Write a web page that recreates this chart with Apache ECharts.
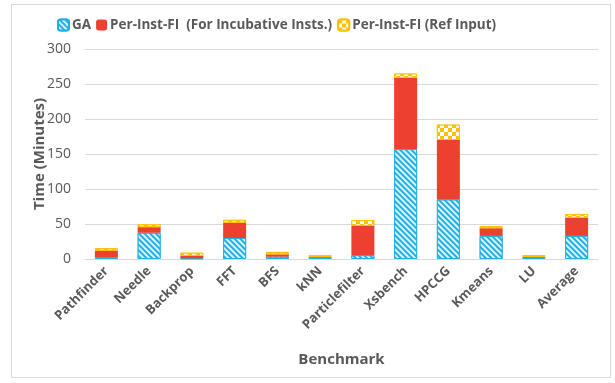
<!DOCTYPE html>
<html><head><meta charset="utf-8">
<script src="https://cdn.jsdelivr.net/npm/echarts@6/dist/echarts.min.js"></script>
<style>
html,body{margin:0;padding:0;background:#fff;}
#frame{position:absolute;left:11px;top:4px;width:600px;height:374px;border:1px solid #d9d9d9;box-sizing:border-box;}
#c{position:absolute;left:0;top:0;width:615px;height:383px;}
</style></head>
<body><div id="frame"></div><div id="c"></div>
<script>
const categories = ['Pathfinder','Needle','Backprop','FFT','BFS','kNN','Particlefilter','Xsbench','HPCCG','Kmeans','LU','Average'];
const gaValues = [2, 37.5, 1, 30, 3.3, 2, 5.5, 157, 85, 33, 2, 33];
const incubValues = [10, 8, 3.5, 22, 3.4, 1, 42, 102, 85, 11, 1, 26];
const refValues = [3.5, 4, 4.5, 4, 3.4, 2.3, 8, 6, 22, 3, 2.5, 5];
const yTicks = {min: 0, max: 300, interval: 50};

const chart = echarts.init(document.getElementById('c'), null, {renderer: 'canvas'});
const font = '"Open Sans", "Liberation Sans", sans-serif';
chart.setOption({
  animation: false,
  legend: {
    top: 13, left: 52,
    itemWidth: 11, itemHeight: 11, itemGap: 5,
    textStyle: {fontFamily: font, fontSize: 13.5, fontWeight: 'bold', color: '#595959', padding: [0, 0, 0, -2]},
    data: ['GA', 'Per-Inst-FI  (For Incubative Insts.)', 'Per-Inst-FI (Ref Input)']
  },
  grid: {left: 85, right: 17, top: 49, bottom: 124},
  xAxis: {
    type: 'category', data: categories,
    name: 'Benchmark', nameLocation: 'middle', nameGap: 93,
    nameTextStyle: {fontFamily: font, fontSize: 15, fontWeight: 'bold', color: '#595959'},
    axisLine: {lineStyle: {color: '#d9d9d9'}},
    axisTick: {show: false},
    axisLabel: {rotate: 45, interval: 0, fontFamily: font, fontSize: 13, fontWeight: 'bold', color: '#595959', margin: 10}
  },
  yAxis: {
    type: 'value', min: yTicks.min, max: yTicks.max, interval: yTicks.interval,
    name: 'Time (Minutes)', nameLocation: 'middle', nameGap: 38, nameMoveOverlap: false,
    nameTextStyle: {fontFamily: font, fontSize: 15, fontWeight: 'bold', color: '#595959'},
    axisLine: {show: false}, axisTick: {show: false},
    axisLabel: {fontFamily: font, fontSize: 14, color: '#595959', margin: 14},
    splitLine: {lineStyle: {color: '#d9d9d9'}}
  },
  series: [
    {
      name: 'GA', type: 'bar', stack: 's', barWidth: 23, data: gaValues,
      itemStyle: {
        color: '#1FB1E6', borderColor: '#1FB1E6', borderWidth: 1,
        decal: {symbol: 'rect', symbolSize: 1, color: 'rgba(255,255,255,0.85)', dashArrayX: [1, 0], dashArrayY: [2, 2], rotation: Math.PI / 4}
      }
    },
    {
      name: 'Per-Inst-FI  (For Incubative Insts.)', type: 'bar', stack: 's', barWidth: 23, data: incubValues,
      itemStyle: {color: '#EE4030'}
    },
    {
      name: 'Per-Inst-FI (Ref Input)', type: 'bar', stack: 's', barWidth: 23, data: refValues,
      itemStyle: {
        color: '#FFC000', borderColor: '#FFC000', borderWidth: 1,
        decal: {symbol: 'rect', symbolSize: 1, color: '#ffffff', dashArrayX: [[4, 4], [0, 4, 4, 0]], dashArrayY: [4, 0]}
      }
    }
  ]
});
</script></body></html>
